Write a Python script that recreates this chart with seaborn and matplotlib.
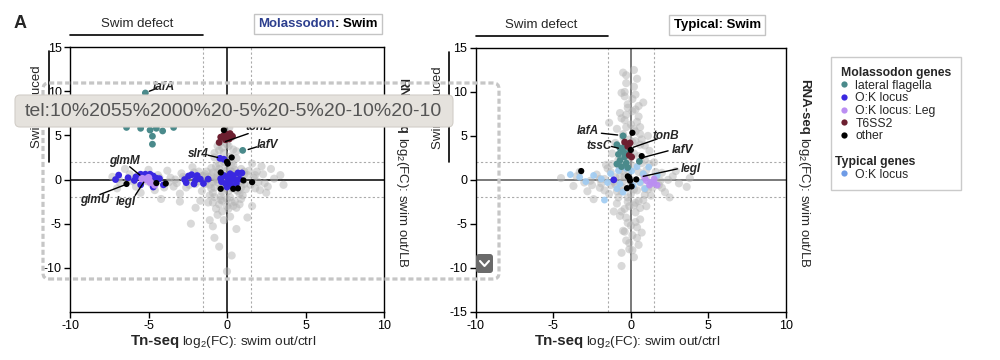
import matplotlib
matplotlib.use("Agg")
import matplotlib.pyplot as plt
import matplotlib.transforms as mtransforms
import seaborn as sns
from matplotlib.lines import Line2D
from matplotlib.patches import FancyBboxPatch
from matplotlib.offsetbox import TextArea, HPacker, AnnotationBbox

# ---------------- data ----------------
# Molassodon panel: all genes (grey cloud)
mol_bg_x = [-1.4, -1.2, -1.0, -0.9, -0.8, -0.7, -0.6, -0.5, -0.4, -0.3, -0.2, -0.1, 0.0, 0.0, 0.1,
            0.2, 0.3, 0.4, 0.5, 0.6, 0.7, 0.8, 0.9, 1.0, 1.2, 1.3, 1.5, -1.1, -0.3, 0.2, -0.6, 0.4,
            -0.9, 0.9, -0.2, 0.1, -0.5, 0.2, 0.6, -0.8, -1.3, -0.7, 0.0, 0.3, -0.4, 0.7, -1.0, 1.1,
            -0.1, 0.5,
            -0.4, 0.3, -0.1, 0.0, -0.3, 0.4, -0.8, -0.6, 0.6, -0.2, 0.15,
            -7.3, -6.8, -6.2, -5.8, -5.3, -4.8, -4.4, -4.0, -3.6, -3.2, -2.9, -2.6, -2.3, -2.0,
            -1.8, -1.6, -3.8, -4.6, -5.5, -6.5, -3.0, -2.2, -7.0, -3.4, -2.7, -1.5, -5.0, -6.0,
            -3.0, -2.0, -1.1, -2.3, -0.9, -0.5, 0.0, 0.6, 1.6, 2.5, -4.2, 1.3, -1.7, 2.8, 3.6,
            -0.8, 0.3,
            1.7, 2.0, 2.3, 2.6, 3.0, 3.4, 1.8, 2.2, 1.6, 1.9, 2.4]
mol_bg_y = [-0.5, 0.3, -1.0, 0.8, -2.0, 1.5, -0.3, -2.8, 0.6, -1.4, 2.0, -0.7, 1.0, -2.2, -3.3,
            0.3, -1.0, 1.6, -2.5, 0.7, -0.5, -1.6, 1.2, -0.2, -1.1, 0.5, -0.6, -1.8, -3.6, -4.2,
            -4.0, -3.0, -2.6, -2.2, 3.0, 3.8, 3.3, 2.6, 2.4, 2.5, -0.1, 0.0, -0.4, 0.9, -1.9,
            -1.3, 0.4, 0.6, 1.4, 0.2,
            4.2, 4.8, 5.5, 4.0, 3.6, 3.4, 3.0, 3.8, 3.2, 4.6, 5.9,
            0.3, -0.4, 0.6, -0.8, 0.2, -0.5, 0.5, -0.9, 0.2, -0.4, 0.7, -0.9, 0.3, -0.5,
            0.9, -1.3, 1.0, -1.2, -1.5, 1.2, -1.6, 1.4, -1.0, -0.8, 0.1, 0.4, 1.1, -0.2,
            -2.5, -3.2, -4.6, -5.0, -5.3, -7.6, -10.4, -5.6, -3.0, -1.5, -2.2, -4.3, -2.4, 1.2,
            -0.6, -6.6, -8.6,
            0.2, -0.3, 0.6, -0.8, 0.1, 0.5, -1.0, 1.5, 1.8, 0.9, -0.4]
# denser core of the Molassodon cloud
mol_core_x = [-1.3, -1.1, -0.9, -0.7, -0.5, -0.3, -0.1, 0.1, 0.3, 0.5, 0.7, 0.9, 1.1,
              -1.2, -1.0, -0.8, -0.6, -0.4, -0.2, 0.0, 0.2, 0.4, 0.6, 0.8, 1.0,
              -1.4, -0.9, -0.4, 0.1, 0.6, 1.1, -0.7, -0.2, 0.3, 0.8, -0.5, 0.0, 0.5, -0.3, 0.2,
              -1.6, -1.8, -2.1, -2.4, -2.8, -3.3, -3.7, -4.3, -5.1, -5.7, -6.3, -6.9,
              1.4, 1.8, 2.1, -0.1, 0.4, -0.6]
mol_core_y = [0.9, -0.6, -1.5, 0.2, 1.2, -2.4, 0.4, -1.3, 1.9, -0.3, 0.1, -0.9, 0.9,
              -2.6, 1.3, -0.9, 0.8, -0.9, -1.0, -3.0, -2.0, -0.4, -1.2, 0.5, -1.8,
              0.6, -0.3, -2.3, -0.4, -3.2, -0.5, -3.3, -4.6, -2.6, -2.8, 1.8, 2.2, 1.1, -0.2, 1.0,
              0.4, -0.2, 0.8, -0.6, 0.3, 0.0, -0.3, 0.2, -0.2, 0.4, -0.1, 0.1,
              1.0, 0.5, -1.2, 0.0, 0.0, 0.0]

mol_flag_x = [-5.2, -6.4, -5.5, -4.9, -4.5, -4.1, -3.4, -4.75, -4.75, -5.0, -4.6, -5.6, 1.0]
mol_flag_y = [9.8, 5.9, 5.8, 5.6, 5.8, 5.5, 5.9, 4.9, 4.0, 6.6, 7.2, 7.5, 3.3]

mol_ok_x = [-7.1, -6.9, -6.3, -5.8, -5.5, -5.2, -4.9, -4.7, -4.5, -4.3, -4.05, -4.7, -5.5, -5.9,
            -2.7, -2.45, -2.25, -2.0, -2.6, -2.1, -1.7, -1.5, -1.2, -1.9,
            -0.4, -0.2, 0.0, 0.2, 0.4, 0.7, 0.95, 0.5, 0.2, -0.1, 0.6, 0.3, 0.0, 0.8, -0.35, 0.1,
            0.35, -0.45, -0.2]
mol_ok_y = [0.0, 0.5, 0.2, 0.3, 0.6, 0.6, 0.6, 0.4, 0.15, 0.1, -0.6, -0.85, -0.6, -0.1,
            0.0, 0.4, 0.55, -0.05, -0.35, -0.5, 0.05, -0.45, 0.05, 0.45,
            0.1, 0.45, 0.3, 0.65, 0.45, 0.75, 0.75, 0.0, -0.25, -0.45, -0.45, -0.75, -0.85, 0.05,
            -0.25, 0.0, 0.15, 2.4, 2.3]

mol_leg_x = [-5.2, -4.9, -5.4, -4.6, -5.0]
mol_leg_y = [0.0, -0.3, 0.1, -0.6, 0.2]

mol_t6_x = [-0.5, -0.4, -0.2, 0.0, 0.2, 0.35, -0.1, 0.15]
mol_t6_y = [4.2, 4.8, 5.0, 5.1, 5.2, 4.9, 4.5, 4.6]

mol_other_x = [-0.2, 0.0, 0.3, 0.05, -0.4, -0.4, 0.4, 0.7, 1.05, 1.6, -3.9, -4.5, -6.4]
mol_other_y = [5.6, 2.0, 2.5, 1.8, 0.8, -1.05, -1.05, -1.0, -0.1, -0.3, -0.45, -0.4, -0.5]

mol_gene_names = ["lafA", "tonB", "lafV", "slr4", "glmM", "glmU", "legI"]
mol_gene_text = [(-4.0, 10.5), (2.0, 5.9), (2.6, 3.9), (-1.85, 2.85), (-6.55, 2.15), (-8.45, -2.3), (-6.45, -2.55)]
mol_gene_line = [((-4.95, 10.0), (-4.5, 10.3)), ((-0.1, 4.3), (1.35, 5.2)), ((1.35, 3.4), (1.9, 3.7)),
                 ((-1.2, 2.75), (-0.6, 2.5)), ((-6.2, 1.45), (-5.55, 0.5)), ((-8.1, -1.7), (-6.5, -0.6)),
                 ((-5.85, -1.8), (-5.3, -0.3))]

# Typical panel: all genes (grey cloud)
typ_bg_x = [-0.5, -0.3, 0.2, -0.6, 0.1, -0.2, 0.3, -0.7, 0.5, -0.4, 0.0, 0.6, -0.9, 0.3, -0.5, 0.7,
            -1.0, 0.9, -0.3, 1.2, -1.2, 0.5, -0.8, 1.5, -1.6, 0.2, 1.0, -1.3, 2.0, -2.2, -0.4, 1.6,
            -1.7, 2.4, -2.6, 0.6, -3.0, 3.1, -1.0, 1.8, -3.7, 3.6, -2.0, 0.9, -0.6, 2.2, -1.4, 1.3,
            -0.2, -2.4, 0.5, -0.9, 1.0, -0.4, 0.3, -0.7, 0.6, -0.2, 0.4, -0.5, 0.1, -0.3, 0.5, -0.1,
            -0.6, 0.2, -0.6, 2.5, -4.5, 3.8, -3.3, 2.9, -2.8, 1.1, -1.4, 0.8, -1.1, 0.7,
            0.0, -0.5, 0.4, -0.1, 0.8, -1.1, 0.0, 0.2, -0.6, 1.4, -1.9, 0.1, -0.3, 0.4, -0.1, 0.9,
            -0.8, 1.9, -0.2, 0.3, -0.4, 0.6, -1.5, 1.2, 0.0, -0.7, -0.1, 0.2]
typ_bg_y = [12.2, 11.0, 10.6, 9.9, 9.2, 8.6, 8.0, 7.6, 7.2, 6.8, 6.3, 6.0, 5.8, 5.5, 4.9, 4.6,
            4.2, 3.9, 3.6, 3.3, 3.0, 2.7, 2.3, 2.0, 1.7, 1.5, 1.1, 0.9, 0.8, 0.6, 0.4, 0.3,
            0.1, 0.0, -0.1, -0.3, -0.3, -0.4, -0.5, -0.6, -0.7, -0.8, -0.9, -1.0, -1.3, -1.4, -1.6, -1.8,
            -2.0, -2.2, -2.4, -2.7, -3.0, -3.3, -3.7, -4.1, -4.5, -4.9, -5.4, -5.8, -6.3, -6.9, -7.4, -7.9,
            -8.3, -8.8, -9.8, -2.0, 0.2, 0.2, 0.9, 1.0, -1.3, 5.0, 6.5, 8.8, -3.6, -6.0,
            0.0, 1.0, -1.2, 2.2, 0.6, -0.2, -1.6, 3.0, -0.8, -0.9, -0.4, 4.3, 7.4, 11.5, -3.0, 2.3,
            1.7, -0.1, 1.2, -2.6, 9.5, 4.0, 1.3, 1.8, -0.6, 0.4, 2.6, -1.1]
# denser core / column of the Typical cloud
typ_core_x = [-0.4, 0.3, -0.2, 0.5, -0.6, 0.1, -0.3, 0.4, -0.5, 0.2,
              -0.1, 0.6, -0.4, 0.3, -0.2, 0.0, -0.7, 0.7, -1.0, 1.0,
              -1.3, 1.3, -0.5, 0.5, -0.9, 0.9, -0.2, 0.2, -1.2, 1.1,
              -0.6, 0.6, -0.3, 0.3, 0.0, -0.8, 0.8, -0.4, 0.4, -0.1,
              0.1, -2.0, 2.0, -2.5, 2.7, -3.5, -1.7, 1.6, -0.3, 0.2]
typ_core_y = [10.0, 9.7, 8.2, 8.4, 7.0, 7.8, 6.0, 6.6, 5.2, 5.8,
              4.6, 5.2, 4.0, 4.4, 3.4, 2.8, 1.2, 1.9, 0.3, 0.3,
              -0.6, -0.4, -0.2, 0.9, -1.3, -1.7, -2.5, -2.9, 1.8, -1.1,
              -3.6, -3.2, -4.3, -4.8, -5.2, -2.0, -2.3, -5.9, -6.6, -7.2,
              -8.0, 0.1, -0.9, -0.6, 0.4, 0.4, -1.2, 0.9, 11.9, 12.5]

typ_flag_x = [-0.5, -0.9, -0.7, -0.5, -0.8, -0.4, -0.7, -0.3, -0.6, -0.2, -0.9, -0.4, -0.2, 0.55]
typ_flag_y = [5.0, 4.0, 3.6, 3.2, 2.9, 2.6, 2.2, 1.9, 1.5, 1.4, 1.8, 3.8, 3.0, 2.1]

typ_t6_x = [-0.4, -0.05, -0.2, -0.1, 0.05]
typ_t6_y = [4.3, 4.2, 3.8, 2.8, 2.6]

typ_other_x = [0.1, 0.0, 0.7, -3.2, -0.2, -0.05, -0.25, 0.05, 0.35, -0.1]
typ_other_y = [5.35, 3.4, 2.7, 1.0, 0.4, -0.1, -0.95, -0.75, 0.05, 0.2]

typ_ok_mol_x = [-1.1]
typ_ok_mol_y = [0.0]

typ_leg_x = [1.0, 1.3, 1.5, 1.7, 1.5, 1.2, 0.9]
typ_leg_y = [-0.1, -0.3, -0.4, -0.6, 0.1, -0.6, 0.2]

typ_ok_x = [-3.9, -3.3, -2.4, -1.9, -1.5, -1.3, -0.8, -0.7, -0.9, 0.4, 0.8, 1.15, 1.3, 0.6, 0.15,
            -0.5, -1.7, 1.7, 0.05, -2.9, -0.3, 0.9]
typ_ok_y = [0.6, 0.3, 0.5, 0.1, -0.3, 0.7, 1.05, -0.45, -1.0, 1.5, 0.7, 1.45, -0.3, -0.3, -0.65,
            -1.4, -2.3, 0.5, 1.0, -0.2, 1.3, -1.0]

typ_gene_names = ["lafA", "tssC", "tonB", "lafV", "legI"]
typ_gene_text = [(-2.75, 5.5), (-2.05, 3.9), (2.25, 5.0), (3.35, 3.45), (3.85, 1.25)]
typ_gene_line = [((-1.9, 5.3), (-0.85, 5.1)), ((-1.25, 3.8), (-0.8, 3.6)), ((1.7, 4.65), (0.15, 3.7)),
                 ((2.4, 3.3), (0.8, 2.55)), ((3.0, 1.25), (0.8, 0.4))]

legend_labels = ["lateral flagella", "O:K locus", "O:K locus: Leg", "T6SS2", "other"]
typical_label = "O:K locus"

# ---------------- style ----------------
sns.set_style("ticks")
plt.rcParams["font.family"] = ["Liberation Sans", "DejaVu Sans"]
plt.rcParams["mathtext.fontset"] = "custom"
plt.rcParams["mathtext.rm"] = "Liberation Sans"
plt.rcParams["mathtext.bf"] = "Liberation Sans:bold"
plt.rcParams["mathtext.it"] = "Liberation Sans:italic"
plt.rcParams["axes.unicode_minus"] = False

c_flag = "#4a8a8b"
c_ok = "#3a28e0"
c_leg = "#bb8ef2"
c_t6 = "#6c1f30"
c_other = "#000000"
c_typ = "#9fcbf2"
c_typ_leg = "#6e9be6"
c_grey = "#b4b4b4"

fig = plt.figure(figsize=(10, 3.6), dpi=100)
ax1 = fig.add_axes([0.070, 0.1333, 0.314, 0.736])
ax2 = fig.add_axes([0.4757, 0.1342, 0.3103, 0.7325])


def dots(ax, x, y, color, s=24, alpha=1.0, z=3):
    sns.scatterplot(x=x, y=y, ax=ax, color=color, s=s, alpha=alpha,
                    edgecolor="none", linewidth=0, legend=False, zorder=z)


def frame(ax, zero_color, yticks, bar_x, text_x):
    ax.set_xlim(-10, 10)
    ax.set_ylim(-15, 15)
    ax.set_xticks([-10, -5, 0, 5, 10])
    ax.set_yticks(yticks)
    ax.set_xlabel("")
    ax.set_ylabel("")
    ax.tick_params(direction="out", length=4, width=1, labelsize=9, pad=2, colors="black")
    for sp in ax.spines.values():
        sp.set_visible(True)
        sp.set_linewidth(1)
        sp.set_color("black")
    for v in (-1.5, 1.5):
        ax.axvline(v, color="#aaaaaa", lw=0.8, ls=(0, (2, 2)), zorder=1)
    for v in (-2, 2):
        ax.axhline(v, color="#aaaaaa", lw=0.8, ls=(0, (2, 2)), zorder=1)
    ax.axvline(0, color=zero_color, lw=1.1, zorder=1.5)
    ax.axhline(0, color=zero_color, lw=1.1, zorder=1.5)

    # Swim defect bracket
    tx = ax.get_xaxis_transform()
    ax.plot([-10, -1.5], [1.047, 1.047], color="black", lw=1.2, transform=tx, clip_on=False)
    ax.text(-5.75, 1.088, "Swim defect", transform=tx, ha="center", va="center", fontsize=9.5)

    # Swim induced bracket
    ty = ax.get_yaxis_transform()
    ax.plot([bar_x, bar_x], [2, 14.5], color="black", lw=1.2, transform=ty, clip_on=False)
    ax.text(text_x, 8.2, "Swim induced", transform=ty, rotation=90, ha="center", va="center",
            fontsize=9.5)

    # x label
    ax.text(0.35, -0.125, "Tn-seq", transform=ax.transAxes, ha="right", va="baseline",
            fontsize=10.8, fontweight="bold")
    ax.text(0.357, -0.125, "log$_2$(FC): swim out/ctrl", transform=ax.transAxes, ha="left",
            va="baseline", fontsize=9.7)
    # right y label
    ax.text(1.058, 0.672, "RNA-seq", transform=ax.transAxes, rotation=-90, ha="center",
            va="bottom", fontsize=9.5, fontweight="bold")
    ax.text(1.058, 0.662, "log$_2$(FC): swim out/LB", transform=ax.transAxes, rotation=-90,
            ha="center", va="top", fontsize=9.5)


def gene_labels(ax, names, texts, lines):
    for name, (tx, ty), ((x0, y0), (x1, y1)) in zip(names, texts, lines):
        ax.plot([x0, x1], [y0, y1], color="black", lw=1, zorder=6)
        ax.text(tx, ty, name, ha="center", va="center", fontsize=8.5, fontweight="bold",
                fontstyle="italic", zorder=7)


def title_box(ax, x, parts):
    areas = [TextArea(t, textprops=dict(color=c, fontsize=9.5, fontweight="bold")) for t, c in parts]
    box = HPacker(children=areas, pad=0, sep=0, align="baseline")
    ab = AnnotationBbox(box, (x, 1.088), xycoords="axes fraction", box_alignment=(0.5, 0.5),
                        frameon=True, pad=0.3,
                        bboxprops=dict(edgecolor="#c4c4c4", facecolor="white", lw=1,
                                       boxstyle="square,pad=0.3"))
    ab.set_clip_on(False)
    ax.add_artist(ab)


# ---------------- left: Molassodon ----------------
dots(ax1, mol_bg_x + mol_core_x, mol_bg_y + mol_core_y, c_grey, s=34, alpha=0.5, z=2)
dots(ax1, mol_flag_x, mol_flag_y, c_flag)
dots(ax1, mol_ok_x, mol_ok_y, c_ok)
dots(ax1, mol_leg_x, mol_leg_y, c_leg, s=30)
dots(ax1, mol_t6_x, mol_t6_y, c_t6)
dots(ax1, mol_other_x, mol_other_y, c_other, s=20)
frame(ax1, "black", [-10, -5, 0, 5, 10, 15], -0.067, -0.105)
gene_labels(ax1, mol_gene_names, mol_gene_text, mol_gene_line)
title_box(ax1, 0.79, [("Molassodon", "#2d3f8e"), (": Swim", "black")])

# ---------------- right: Typical ----------------
dots(ax2, typ_bg_x + typ_core_x, typ_bg_y + typ_core_y, c_grey, s=34, alpha=0.5, z=2)
dots(ax2, typ_ok_x, typ_ok_y, c_typ, alpha=0.9)
dots(ax2, typ_flag_x, typ_flag_y, c_flag)
dots(ax2, typ_t6_x, typ_t6_y, c_t6)
dots(ax2, typ_leg_x, typ_leg_y, c_leg, alpha=0.9)
dots(ax2, typ_ok_mol_x, typ_ok_mol_y, c_ok)
dots(ax2, typ_other_x, typ_other_y, c_other, s=20)
frame(ax2, "#555555", [-15, -10, -5, 0, 5, 10, 15], -0.086, -0.121)
gene_labels(ax2, typ_gene_names, typ_gene_text, typ_gene_line)
title_box(ax2, 0.778, [("Typical: Swim", "black")])

# ---------------- legend ----------------
def mk(c):
    return Line2D([], [], marker="o", linestyle="none", markersize=4.5, markerfacecolor=c,
                  markeredgecolor="none")

blank = Line2D([], [], linestyle="none")
handles = [mk(c) for c in (c_flag, c_ok, c_leg, c_t6, c_other)] + [blank, blank, mk(c_typ_leg)]
labels = legend_labels + ["", "Typical genes", typical_label]
leg = fig.legend(handles, labels, title="Molassodon genes", loc="upper left",
                 bbox_to_anchor=(0.831, 1 - 57 / 360), frameon=True, fontsize=8.8,
                 title_fontproperties={"weight": "bold", "size": 8.8}, alignment="left",
                 handlelength=0.6, handletextpad=0.6, labelspacing=0.06, borderpad=0.8,
                 borderaxespad=0, fancybox=False, edgecolor="#bdbdbd")
leg.get_frame().set_linewidth(1)
typ_txt = leg.get_texts()[6]
typ_txt.set_fontweight("bold")
typ_txt.set_x(-20)

fig.text(0.014, 1 - 24 / 360, "A", fontsize=13, fontweight="bold", ha="left", va="center")

# ---------------- screenshot overlay ----------------
pix = mtransforms.IdentityTransform()
H = 360
dash = FancyBboxPatch((43, H - 279), 456, 196, boxstyle="round,pad=0,rounding_size=6",
                      fill=False, edgecolor="#c6c6c6", lw=2.3, linestyle=(0, (1.6, 0.9)),
                      transform=pix, zorder=10)
fig.add_artist(dash)
tip = FancyBboxPatch((15, H - 127), 438, 32, boxstyle="round,pad=0,rounding_size=5",
                     facecolor="#e5e2dd", edgecolor="#d2cec8", lw=0.8, transform=pix, zorder=11)
fig.add_artist(tip)
fig.text(25 / 1000, 1 - 111 / 360, "tel:10%2055%2000%20-5%20-5%20-10%20-10", fontsize=14,
         color="#555555", ha="left", va="center", zorder=12)
btn = FancyBboxPatch((476, H - 273), 17, 19, boxstyle="round,pad=0,rounding_size=3",
                     facecolor="#6a6a6a", edgecolor="none", transform=pix, zorder=12)
fig.add_artist(btn)
fig.add_artist(Line2D([480, 484.5, 489], [H - 261, H - 266, H - 261], color="white", lw=1.5,
                      transform=pix, zorder=13))

fig.savefig("out.png", dpi=100)
